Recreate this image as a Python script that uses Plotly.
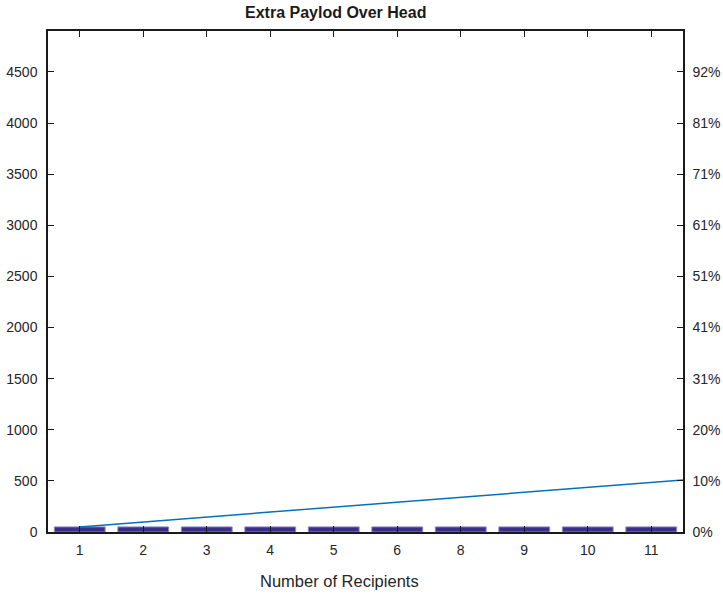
import plotly.graph_objects as go

# Recipient counts shown under each bar
recipients = ["1", "2", "3", "4", "5", "6", "8", "9", "10", "11"]
# Payload size per message (bars)
payload = [50, 50, 50, 50, 50, 50, 50, 50, 50, 50]
# Extra payload overhead curve, one point per step
overhead_x = [1, 2, 3, 4, 5, 6, 7, 8, 9, 10, 11]
overhead = [50, 98, 147, 195, 243, 292, 340, 388, 437, 485, 533]

left_ticks = [0, 500, 1000, 1500, 2000, 2500, 3000, 3500, 4000, 4500]
right_ticks = ["0%", "10%", "20%", "31%", "41%", "51%", "61%", "71%", "81%", "92%"]

positions = list(range(1, len(recipients) + 1))
y_max = 4900
axis_col = "#1a1a1a"
font_family = "Liberation Sans, Arial, sans-serif"

# plot area in pixels
L, R, T, B = 48, 683, 31, 532
W, H = 723, 594


def px_x(px):
    return (px - L) / (R - L)


def px_y(py):
    return (B - py) / (B - T)


fig = go.Figure()
fig.add_trace(go.Bar(
    x=positions, y=payload, width=0.8,
    marker=dict(color="#3b2f8a", line=dict(color="#8f87c6", width=1)),
    showlegend=False,
))
fig.add_trace(go.Scatter(
    x=overhead_x, y=overhead, mode="lines",
    line=dict(color="#0072bd", width=1.5),
    xaxis="x2", yaxis="y2", showlegend=False,
))

fig.update_layout(
    width=W, height=H,
    margin=dict(l=L, r=W - R, t=T, b=H - B, autoexpand=False),
    paper_bgcolor="white", plot_bgcolor="white",
    font=dict(family=font_family, size=14, color="#262626"),
    xaxis=dict(
        range=[0.5, 10.5], tickvals=positions, ticktext=recipients,
        showline=True, linecolor=axis_col, linewidth=1.5, mirror="ticks",
        ticks="inside", ticklen=6, tickcolor=axis_col, tickwidth=1,
        showgrid=False, zeroline=False, ticklabelstandoff=4,
        automargin=False,
    ),
    yaxis=dict(
        range=[0, y_max], tickvals=left_ticks,
        ticktext=[str(v) for v in left_ticks],
        showline=True, linecolor=axis_col, linewidth=1.5,
        ticks="inside", ticklen=6, tickcolor=axis_col, tickwidth=1,
        showgrid=False, zeroline=False, ticklabelstandoff=6,
        automargin=False,
    ),
    xaxis2=dict(range=[0.5, 10.5], overlaying="x", visible=False,
                automargin=False),
    yaxis2=dict(
        range=[0, y_max], overlaying="y", side="right",
        tickvals=left_ticks, ticktext=right_ticks,
        showline=True, linecolor=axis_col, linewidth=1.5,
        ticks="inside", ticklen=6, tickcolor=axis_col, tickwidth=1,
        showgrid=False, zeroline=False, ticklabelstandoff=5,
        automargin=False,
    ),
    annotations=[
        dict(text="<b>Extra Paylod Over Head</b>", xref="paper", yref="paper",
             x=px_x(335), y=px_y(12), xanchor="center", yanchor="middle",
             showarrow=False, font=dict(size=16, color="#1a1a1a")),
        dict(text="Number of Recipients", xref="paper", yref="paper",
             x=px_x(339), y=px_y(581), xanchor="center", yanchor="middle",
             showarrow=False, font=dict(size=16.5, color="#262626")),
    ],
)

fig.write_html("out.html")
